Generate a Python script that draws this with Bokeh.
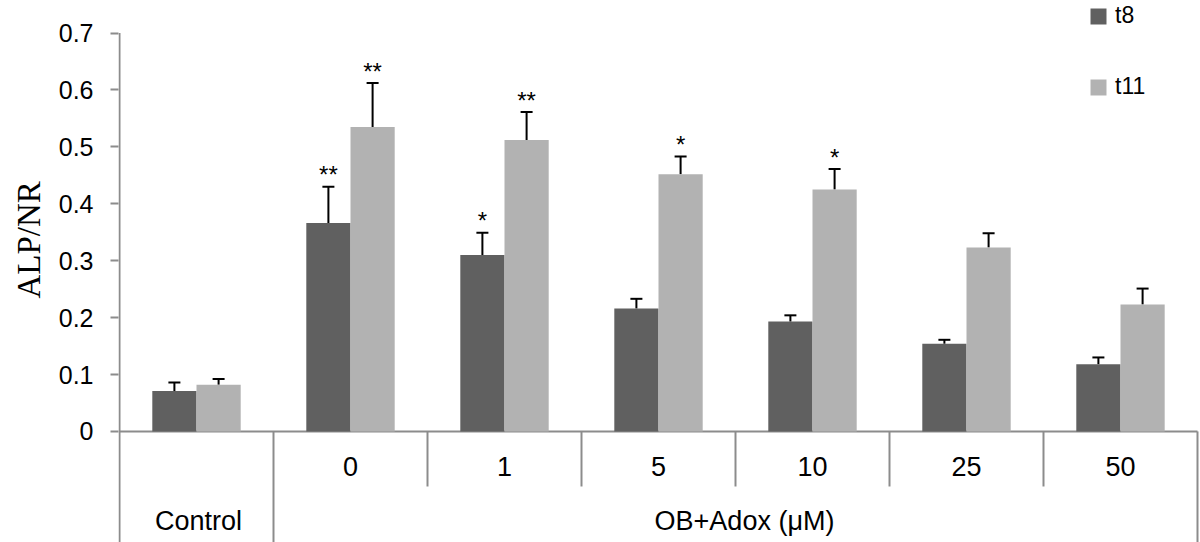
import numpy as np
from bokeh.plotting import figure
from bokeh.models import (ColumnDataSource, Range1d, FixedTicker, Whisker, TeeHead,
                          Legend, LegendItem, Title)
from bokeh.core.properties import value
from bokeh.embed import file_html
from bokeh.resources import INLINE

# ---------------- data ----------------
categories = ["Control", "0", "1", "5", "10", "25", "50"]
group_labels = ["Control", "OB+Adox (\u03bcM)"]
series_names = ["t8", "t11"]
t8 = [0.071, 0.366, 0.310, 0.216, 0.193, 0.154, 0.118]
t8_sd = [0.015, 0.064, 0.039, 0.017, 0.011, 0.007, 0.012]
t11 = [0.082, 0.535, 0.512, 0.452, 0.425, 0.323, 0.223]
t11_sd = [0.010, 0.077, 0.049, 0.031, 0.036, 0.025, 0.028]
sig_t8 = ["", "**", "*", "", "", "", ""]
sig_t11 = ["", "**", "**", "*", "*", "", ""]
y_ticks = [0, 0.1, 0.2, 0.3, 0.4, 0.5, 0.6, 0.7]
y_tick_labels = ["0", "0.1", "0.2", "0.3", "0.4", "0.5", "0.6", "0.7"]
y_label = "ALP/NR"

# ---------------- style ----------------
C8 = "#606060"
C11 = "#b2b2b2"
GRAY = "#8c8c8c"
SANS = "Liberation Sans"
SERIF = "Liberation Serif"

n = len(categories)
y_top = 0.7571
y_bot = -0.1951
p = figure(width=1200, height=542, output_backend="svg", toolbar_location=None,
           x_range=Range1d(-0.0065, n + 0.0195), y_range=Range1d(y_bot, y_top),
           min_border_left=117, min_border_right=0, min_border_top=0, min_border_bottom=0)
p.xaxis.visible = False
p.grid.visible = False
p.outline_line_color = None
p.background_fill_color = "white"
p.border_fill_color = "white"

ya = p.yaxis[0]
ya.axis_line_color = None
ya.ticker = FixedTicker(ticks=y_ticks)
ya.major_label_overrides = {t: l for t, l in zip(y_ticks, y_tick_labels)}
ya.major_tick_out = 8
ya.major_tick_in = 0
ya.major_tick_line_color = GRAY
ya.major_tick_line_width = 2
ya.minor_tick_line_color = None
ya.major_label_standoff = 17
ya.major_label_text_font = SANS
ya.major_label_text_font_size = "25px"
ya.major_label_text_color = "black"

# y-axis title (placed on the left side)
p.add_layout(Title(text=y_label, align="left", offset=244, standoff=17,
                   text_font=SERIF, text_font_size="33px", text_font_style="normal",
                   text_color="black"), "left")

# table-like category axis lines
p.segment(x0=[0], y0=[max(y_ticks)], x1=[0], y1=[y_bot], line_color=GRAY, line_width=2)
p.segment(x0=[0], y0=[0], x1=[n], y1=[0], line_color=GRAY, line_width=2)
p.segment(x0=[1, n], y0=[0, 0], x1=[1, n], y1=[y_bot, y_bot], line_color=GRAY, line_width=2)
inner = list(range(2, n))
p.segment(x0=inner, y0=[0] * len(inner), x1=inner, y1=[-0.0967] * len(inner),
          line_color=GRAY, line_width=2)

# bars
bw = 0.287
idx = np.arange(n)
x8 = idx + 0.5 - bw / 2
x11 = idx + 0.5 + bw / 2
src8 = ColumnDataSource(dict(x=x8, top=t8, upper=np.array(t8) + np.array(t8_sd), sig=sig_t8))
src11 = ColumnDataSource(dict(x=x11, top=t11, upper=np.array(t11) + np.array(t11_sd), sig=sig_t11))
r8 = p.vbar(x="x", top="top", width=bw, source=src8, fill_color=C8, line_color=None)
r11 = p.vbar(x="x", top="top", width=bw, source=src11, fill_color=C11, line_color=None)

for src in (src8, src11):
    w = Whisker(source=src, base="x", upper="upper", lower="top", line_color="black",
                line_width=2, upper_head=TeeHead(size=12, line_width=2, line_color="black"),
                lower_head=None)
    p.add_layout(w)
    p.text(x="x", y="upper", text="sig", source=src, text_align="center",
           text_baseline="alphabetic", y_offset=-12, text_font=value(SANS),
           text_font_size="24px", text_color="black")

# category labels
p.text(x=idx[1:] + 0.5, y=[-0.0610] * (n - 1), text=categories[1:], text_align="center",
       text_baseline="alphabetic", text_font=value(SANS), text_font_size="27px",
       text_color="black")
grp_src = ColumnDataSource(dict(x=[0.5, (1 + n) / 2], y=[-0.158, -0.158],
                                text=group_labels, dx=[2, 9]))
p.text(x="x", y="y", text="text", x_offset="dx", source=grp_src, text_align="center",
       text_baseline="alphabetic", text_font=value(SANS), text_font_size="27px",
       text_color="black")

# legend
legend = Legend(items=[LegendItem(label=series_names[0], renderers=[r8]),
                       LegendItem(label=series_names[1], renderers=[r11])],
                location=(970, 442), orientation="vertical", padding=0, margin=0,
                border_line_color=None, background_fill_alpha=0,
                glyph_width=20, glyph_height=20, label_standoff=7, spacing=44,
                label_text_font=SANS, label_text_font_size="23px", label_text_color="black")
p.add_layout(legend)

open("out.html", "w").write(file_html(p, INLINE))
